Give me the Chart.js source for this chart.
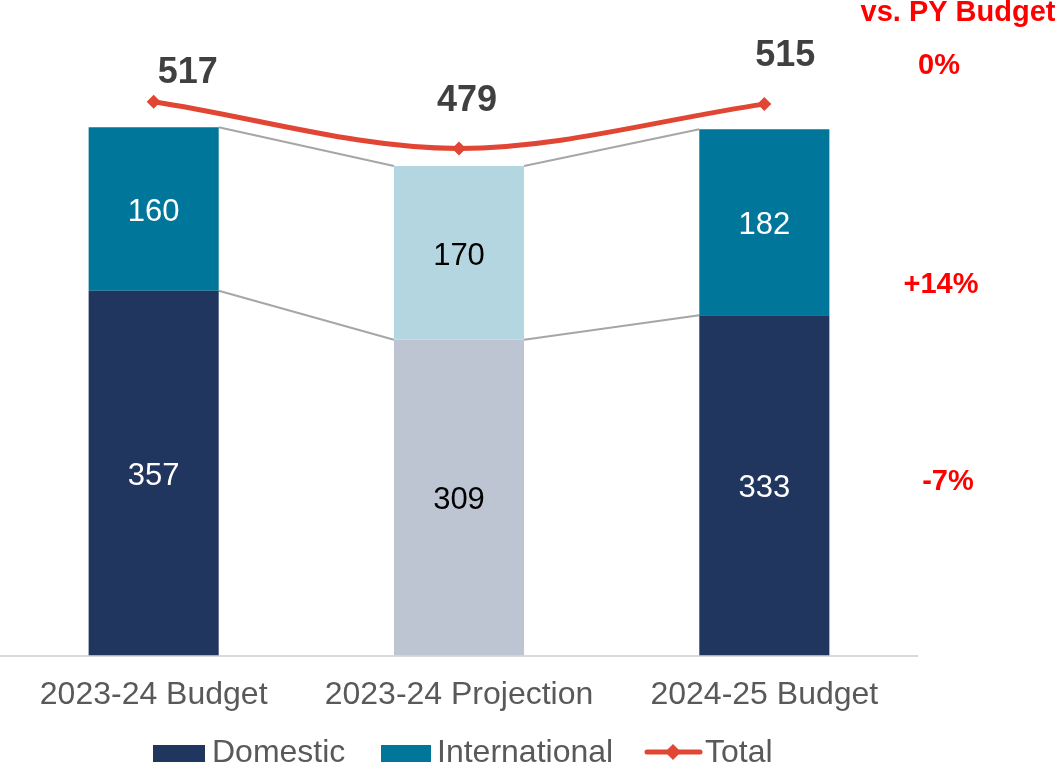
<!DOCTYPE html>
<html><head><meta charset="utf-8">
<script src="https://cdn.jsdelivr.net/npm/chart.js@4"></script>
<style>html,body{margin:0;padding:0;background:#fff}#wrap{width:1059px;height:771px;position:relative}canvas{display:block}</style>
</head><body><div id="wrap"><canvas id="c" width="1059" height="771"></canvas></div>
<script>
const categories = ['2023-24 Budget', '2023-24 Projection', '2024-25 Budget'];
const domestic = [357, 309, 333];
const international = [160, 170, 182];
const total = [517, 479, 515];
const seriesNames = ['Domestic', 'International', 'Total'];
const changeTitle = 'vs. PY Budget';
const changeLabels = ['0%', '+14%', '-7%'];

const FONT = '"Liberation Sans", Arial, sans-serif';
const domColors = ['#21365F', '#BEC5D2', '#21365F'];
const intColors = ['#00769A', '#B4D6E0', '#00769A'];
const domText = ['#ffffff', '#000000', '#ffffff'];
const intText = ['#ffffff', '#000000', '#ffffff'];
const lineColor = '#E04633';
const totalLabelOffsets = [[34, -29], [8, -47], [21, -48]];
const changePos = [[939, 66], [941, 285], [948, 482]];

const overlay = {
  id: 'overlay',
  beforeDatasetsDraw(chart) {
    const ctx = chart.ctx;
    const m0 = chart.getDatasetMeta(0).data, m1 = chart.getDatasetMeta(1).data;
    ctx.save();
    ctx.strokeStyle = '#A6A6A6';
    ctx.lineWidth = 2;
    for (const meta of [m0, m1]) {
      for (let i = 0; i < meta.length - 1; i++) {
        const a = meta[i], b = meta[i + 1];
        ctx.beginPath();
        ctx.moveTo(a.x + a.width / 2, a.y);
        ctx.lineTo(b.x - b.width / 2, b.y);
        ctx.stroke();
      }
    }
    ctx.restore();
  },
  afterDraw(chart) {
    const ctx = chart.ctx;
    ctx.save();
    ctx.textAlign = 'center';
    ctx.textBaseline = 'middle';
    ctx.font = '31px ' + FONT;
    chart.getDatasetMeta(0).data.forEach((el, i) => {
      ctx.fillStyle = domText[i];
      ctx.fillText(String(domestic[i]), el.x, (el.y + el.base) / 2 + 3);
    });
    chart.getDatasetMeta(1).data.forEach((el, i) => {
      ctx.fillStyle = intText[i];
      ctx.fillText(String(international[i]), el.x, (el.y + el.base) / 2 + 3);
    });
    ctx.font = 'bold 36px ' + FONT;
    ctx.fillStyle = '#404040';
    chart.getDatasetMeta(2).data.forEach((el, i) => {
      ctx.fillText(String(total[i]), el.x + totalLabelOffsets[i][0], el.y + totalLabelOffsets[i][1]);
    });
    ctx.fillStyle = '#FF0000';
    ctx.font = 'bold 29px ' + FONT;
    ctx.textBaseline = 'alphabetic';
    ctx.fillText(changeTitle, 958, 21);
    ctx.textBaseline = 'middle';
    ctx.font = 'bold 29px ' + FONT;
    changeLabels.forEach((t, i) => ctx.fillText(t, changePos[i][0], changePos[i][1]));
    const ly = 753;
    ctx.font = '32px ' + FONT;
    ctx.textAlign = 'left';
    ctx.fillStyle = domColors[0];
    ctx.fillRect(153, ly - 8, 52, 17);
    ctx.fillStyle = '#595959';
    ctx.fillText(seriesNames[0], 212, ly);
    ctx.fillStyle = intColors[0];
    ctx.fillRect(381, ly - 8, 50, 17);
    ctx.fillStyle = '#595959';
    ctx.fillText(seriesNames[1], 437, ly);
    ctx.strokeStyle = lineColor;
    ctx.lineWidth = 5;
    ctx.lineCap = 'round';
    ctx.beginPath(); ctx.moveTo(647, ly - 1); ctx.lineTo(700, ly - 1); ctx.stroke();
    ctx.fillStyle = lineColor;
    ctx.beginPath();
    ctx.moveTo(673, ly - 9); ctx.lineTo(681, ly - 1); ctx.lineTo(673, ly + 7); ctx.lineTo(665, ly - 1); ctx.closePath(); ctx.fill();
    ctx.fillStyle = '#595959';
    ctx.fillText(seriesNames[2], 705, ly);
    ctx.restore();
  }
};

new Chart(document.getElementById('c'), {
  data: {
    labels: categories,
    datasets: [
      { type: 'bar', label: seriesNames[0], data: domestic, backgroundColor: domColors, yAxisID: 'y', stack: 's', order: 2,
        categoryPercentage: 1, barPercentage: 0.426, borderWidth: 0 },
      { type: 'bar', label: seriesNames[1], data: international, backgroundColor: intColors, yAxisID: 'y', stack: 's', order: 2,
        categoryPercentage: 1, barPercentage: 0.426, borderWidth: 0 },
      { type: 'line', label: seriesNames[2], data: total, yAxisID: 'y2', order: 1,
        borderColor: lineColor, borderWidth: 5, tension: 0.4, cubicInterpolationMode: 'monotone',
        pointStyle: 'rectRot', pointRadius: 7, pointBackgroundColor: lineColor, pointBorderColor: lineColor, pointBorderWidth: 0,
        borderCapStyle: 'round', clip: false }
    ]
  },
  options: {
    responsive: false,
    animation: false,
    devicePixelRatio: 1,
    layout: { autoPadding: false, padding: { top: 22, left: 1, right: 142, bottom: 37 } },
    plugins: { legend: { display: false }, tooltip: { enabled: false } },
    scales: {
      x: {
        stacked: true,
        grid: { display: false, drawTicks: false },
        border: { display: true, color: '#D9D9D9', width: 2 },
        ticks: { color: '#595959', font: { family: FONT, size: 32 }, padding: 20, maxRotation: 0 },
        afterFit: (s) => { s.paddingLeft = 0; s.paddingRight = 0; }
      },
      y: { stacked: true, display: false, min: 0, max: 620 },
      y2: { display: false, min: 66.4, max: 581.8 }
    }
  },
  plugins: [overlay]
});
</script>
</body></html>
